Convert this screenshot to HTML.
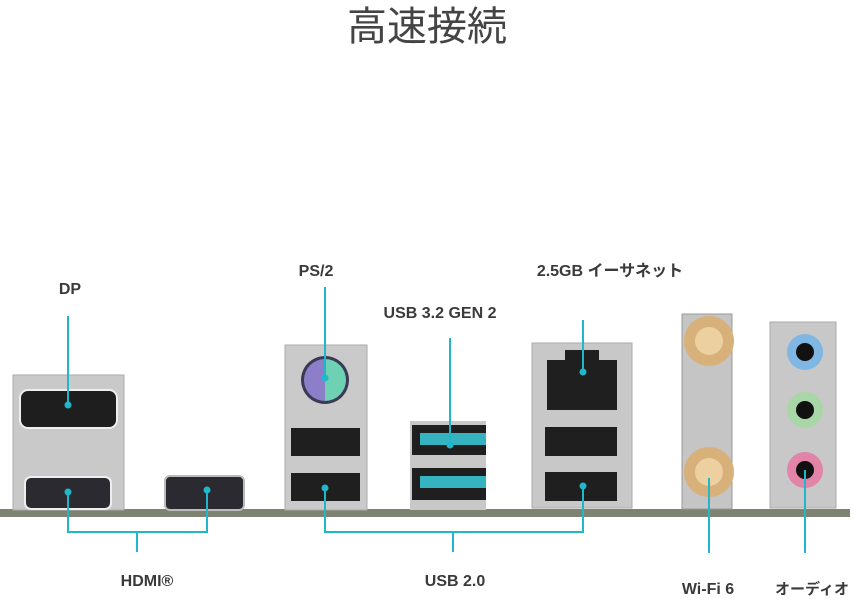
<!DOCTYPE html>
<html><head><meta charset="utf-8"><style>
html,body{margin:0;padding:0;background:#fff;width:853px;height:599px;overflow:hidden}
svg{display:block}
text{font-family:"Liberation Sans","Noto Sans CJK JP",sans-serif;fill:#3a3a3a;font-weight:bold}
</style></head><body>
<svg width="853" height="599" viewBox="0 0 853 599">
<text x="427" y="40" text-anchor="middle" style="font-size:40px;font-weight:normal;fill:#444">高速接続</text>
<!-- board -->
<rect x="0" y="509" width="850" height="8" fill="#7e8270"/>
<!-- DP/HDMI block -->
<rect x="13" y="375" width="111" height="135" fill="#c9c9c9" stroke="#aaa"/>
<rect x="20" y="390" width="97" height="38" rx="8" fill="#1e1e1e" stroke="#eee" stroke-width="2"/>
<rect x="25" y="477" width="86" height="32" rx="6" fill="#2a2a30" stroke="#eee" stroke-width="2"/>
<rect x="165" y="476" width="79" height="34" rx="5" fill="#2a2a30" stroke="#bbb" stroke-width="2"/>
<!-- PS2 block -->
<rect x="285" y="345" width="82" height="165" fill="#cacaca" stroke="#aaa"/>
<circle cx="325" cy="380" r="24" fill="#3a3a55"/>
<path d="M325 359 A21 21 0 0 0 325 401 Z" fill="#8c7ec8"/>
<path d="M325 359 A21 21 0 0 1 325 401 Z" fill="#6fd1b3"/>
<rect x="291" y="428" width="69" height="28" fill="#1f1f1f"/>
<rect x="291" y="473" width="69" height="28" fill="#1f1f1f"/>
<!-- USB3 -->
<rect x="410" y="421" width="76" height="89" fill="#c8c8c8"/>
<rect x="412" y="425" width="74" height="30" fill="#1f1f1f"/>
<rect x="420" y="433" width="66" height="12" fill="#36b3c0"/>
<rect x="412" y="468" width="74" height="32" fill="#1f1f1f"/>
<rect x="420" y="476" width="66" height="12" fill="#36b3c0"/>
<!-- LAN -->
<rect x="532" y="343" width="100" height="165" fill="#c8c8c8" stroke="#aaa"/>
<rect x="547" y="360" width="70" height="50" fill="#1f1f1f"/>
<rect x="565" y="350" width="34" height="12" fill="#1f1f1f"/>
<rect x="545" y="427" width="72" height="29" fill="#1f1f1f"/>
<rect x="545" y="472" width="72" height="29" fill="#1f1f1f"/>
<!-- WiFi -->
<rect x="682" y="314" width="50" height="195" fill="#c5c5c5" stroke="#999"/>
<circle cx="709" cy="341" r="25" fill="#d8b07a"/><circle cx="709" cy="341" r="14" fill="#ecd0a0"/>
<circle cx="709" cy="472" r="25" fill="#d8b07a"/><circle cx="709" cy="472" r="14" fill="#ecd0a0"/>
<!-- Audio -->
<rect x="770" y="322" width="66" height="186" fill="#c8c8c8" stroke="#aaa"/>
<circle cx="805" cy="352" r="18" fill="#7fb6e4"/><circle cx="805" cy="352" r="9" fill="#111"/>
<circle cx="805" cy="410" r="18" fill="#a9d6a6"/><circle cx="805" cy="410" r="9" fill="#111"/>
<circle cx="805" cy="470" r="18" fill="#e283a8"/><circle cx="805" cy="470" r="9" fill="#111"/>
<!-- lines -->
<g stroke="#22b6ca" stroke-width="2" fill="none">
<path d="M68 316V405"/>
<path d="M68 492V532H207V490M137 532V552"/>
<path d="M325 287V378"/>
<path d="M450 338V445"/>
<path d="M325 488V532H583V486M453 532V552"/>
<path d="M583 320V372"/>
<path d="M709 478V553"/>
<path d="M805 470V553"/>
</g>
<g fill="#22b6ca">
<circle cx="68" cy="405" r="3.5"/><circle cx="68" cy="492" r="3.5"/><circle cx="207" cy="490" r="3.5"/>
<circle cx="325" cy="378" r="3.5"/><circle cx="450" cy="445" r="3.5"/><circle cx="325" cy="488" r="3.5"/>
<circle cx="583" cy="372" r="3.5"/><circle cx="583" cy="486" r="3.5"/>
</g>
<text x="70" y="294" text-anchor="middle" font-size="16">DP</text>
<text x="316" y="276" text-anchor="middle" font-size="16">PS/2</text>
<text x="440" y="318" text-anchor="middle" font-size="16">USB 3.2 GEN 2</text>
<text x="610" y="276" text-anchor="middle" font-size="16">2.5GB イーサネット</text>
<text x="147" y="586" text-anchor="middle" font-size="16">HDMI®</text>
<text x="455" y="586" text-anchor="middle" font-size="16">USB 2.0</text>
<text x="708" y="594" text-anchor="middle" font-size="16">Wi-Fi 6</text>
<text x="812" y="594" text-anchor="middle" font-size="15">オーディオ</text>
</svg>
</body></html>
